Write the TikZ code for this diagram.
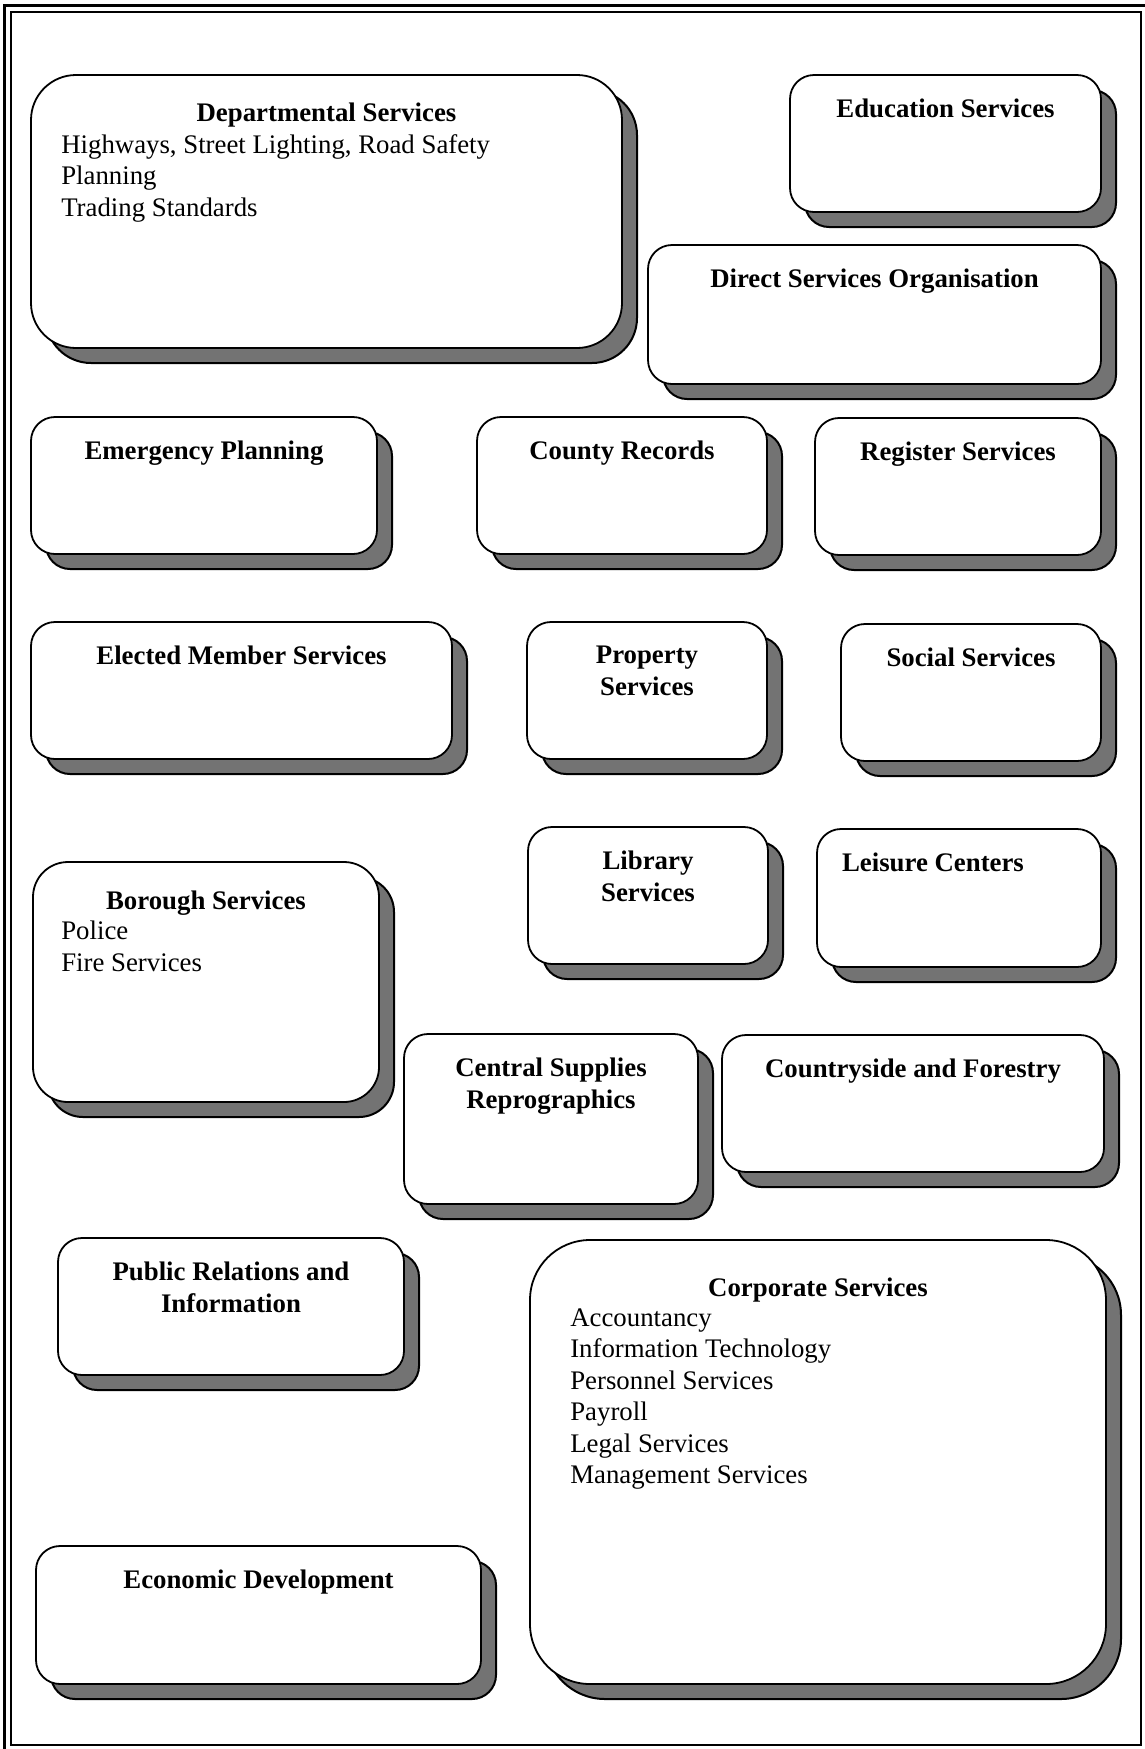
\documentclass[tikz,border=0pt]{standalone}
\usepackage{fontspec}
\setmainfont{Liberation Serif}
\usetikzlibrary{shadows,positioning}

\begin{document}
\begin{tikzpicture}[x=1pt,y=-1pt,
      svc/.style={draw=black,line width=1.8pt,fill=white,rounded corners=24pt,inner sep=0pt,
        drop shadow={shadow xshift=15pt,shadow yshift=-15pt,opacity=1,fill=black!55,draw=black,line width=2pt}},
      ttl/.style={anchor=north,inner sep=0pt,align=center,font=\fontsize{26.8}{31.5}\selectfont\bfseries},
      lst/.style={anchor=north west,inner sep=0pt,align=left,font=\fontsize{26.8}{31.5}\selectfont}
    ]
      \useasboundingbox (0,0) rectangle (1145,1749);
      % frame
      \draw[line width=3pt] (4,5) rectangle (1160,1760);
      \draw[line width=1.8pt] (11,12) rectangle (1141,1745);
      % boxes
      \node[svc,rounded corners=45pt,minimum width=591pt,minimum height=273pt] (dept) at (326.5,211.5) {};
      \node[ttl] (dept-t) at ([yshift=-29pt]dept.north) {Departmental Services};
      \node[lst] (dept-l) at ([xshift=31pt,yshift=-60pt]dept.north west) {Highways, Street Lighting, Road Safety\\Planning\\Trading Standards};
      \node[svc,minimum width=311pt,minimum height=137pt] (edu) at (945.5,143.5) {};
      \node[ttl] (edu-t) at ([yshift=-25pt]edu.north) {Education Services};
      \node[svc,minimum width=453pt,minimum height=139pt] (dso) at (874.5,314.5) {};
      \node[ttl] (dso-t) at ([yshift=-25pt]dso.north) {Direct Services Organisation};
      \node[svc,minimum width=346pt,minimum height=137pt] (emerg) at (204,485.5) {};
      \node[ttl] (emerg-t) at ([yshift=-25pt]emerg.north) {Emergency Planning};
      \node[svc,minimum width=290pt,minimum height=137pt] (records) at (622,485.5) {};
      \node[ttl] (records-t) at ([yshift=-25pt]records.north) {County Records};
      \node[svc,minimum width=286pt,minimum height=137pt] (register) at (958,486.5) {};
      \node[ttl] (register-t) at ([yshift=-25pt]register.north) {Register Services};
      \node[svc,minimum width=421pt,minimum height=137pt] (elected) at (241.5,690.5) {};
      \node[ttl] (elected-t) at ([yshift=-25pt]elected.north) {Elected Member Services};
      \node[svc,minimum width=240pt,minimum height=137pt] (property) at (647,690.5) {};
      \node[ttl] (property-t) at ([yshift=-25pt]property.north) {Property\\Services};
      \node[svc,minimum width=260pt,minimum height=137pt] (social) at (971,692.5) {};
      \node[ttl] (social-t) at ([yshift=-25pt]social.north) {Social Services};
      \node[svc,minimum width=240pt,minimum height=137pt] (library) at (648,895.5) {};
      \node[ttl] (library-t) at ([yshift=-25pt]library.north) {Library\\Services};
      \node[svc,minimum width=284pt,minimum height=138pt] (leisure) at (959,898) {};
      \node[ttl] (leisure-t) at ([xshift=-26pt,yshift=-25pt]leisure.north) {Leisure Centers};
      \node[svc,rounded corners=35pt,minimum width=346pt,minimum height=240pt] (borough) at (206,982) {};
      \node[ttl] (borough-t) at ([yshift=-30pt]borough.north) {Borough Services};
      \node[lst] (borough-l) at ([xshift=29pt,yshift=-60pt]borough.north west) {Police\\Fire Services};
      \node[svc,minimum width=294pt,minimum height=170pt] (supplies) at (551,1119) {};
      \node[ttl] (supplies-t) at ([yshift=-25pt]supplies.north) {Central Supplies\\Reprographics};
      \node[svc,minimum width=382pt,minimum height=137pt] (forestry) at (913,1103.5) {};
      \node[ttl] (forestry-t) at ([yshift=-25pt]forestry.north) {Countryside and Forestry};
      \node[svc,minimum width=346pt,minimum height=137pt] (pr) at (231,1306.5) {};
      \node[ttl] (pr-t) at ([yshift=-25pt]pr.north) {Public Relations and\\Information};
      \node[svc,rounded corners=60pt,minimum width=576pt,minimum height=444pt] (corp) at (818,1462) {};
      \node[ttl] (corp-t) at ([yshift=-39pt]corp.north) {Corporate Services};
      \node[lst] (corp-l) at ([xshift=41pt,yshift=-69pt]corp.north west) {Accountancy\\Information Technology\\Personnel Services\\Payroll\\Legal Services\\Management Services};
      \node[svc,minimum width=445pt,minimum height=138pt] (econ) at (258.5,1615) {};
      \node[ttl] (econ-t) at ([yshift=-25pt]econ.north) {Economic Development};
    \end{tikzpicture}
\end{document}
